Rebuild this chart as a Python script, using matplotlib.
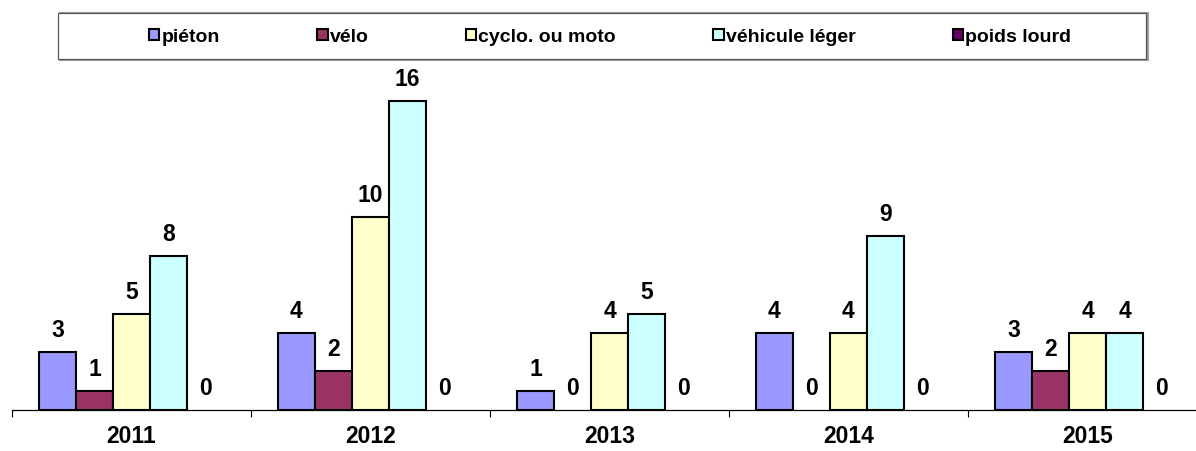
import numpy as np
import matplotlib.pyplot as plt
from matplotlib.patches import Rectangle

plt.rcParams['font.family'] = ['Liberation Sans', 'DejaVu Sans']
plt.rcParams['font.weight'] = 'bold'

# données
years = ['2011', '2012', '2013', '2014', '2015']
series = ['piéton', 'vélo', 'cyclo. ou moto', 'véhicule léger', 'poids lourd']
pieton = [3, 4, 1, 4, 3]
velo = [1, 2, 0, 0, 2]
cyclo = [5, 10, 4, 4, 4]
vehicule = [8, 16, 5, 9, 4]
poids_lourd = [0, 0, 0, 0, 0]
values = [pieton, velo, cyclo, vehicule, poids_lourd]
colors = ['#9999FF', '#993366', '#FFFFCC', '#CCFFFF', '#660066']

W, H = 1196, 451
fig = plt.figure(figsize=(W / 100, H / 100), dpi=100)
ax = fig.add_axes([12 / W, 41 / H, 1195 / W, (410 - 82.2) / H])

x = np.arange(len(years))
bw = 0.155
for i, (name, vals, c) in enumerate(zip(series, values, colors)):
    pos = x + (i - 2) * bw
    bars = ax.bar(pos, vals, bw, color=c, edgecolor='black', linewidth=1.5, label=name)
    for b, v in zip(bars, vals):
        if v == 0:
            b.set_linewidth(0)  # pas de trait pour les barres nulles
        ax.annotate(str(v), (b.get_x() + b.get_width() / 2, v),
                    xytext=(0, 10.8), textcoords='offset points',
                    ha='center', va='baseline', fontsize=16.5, fontweight='bold')

ax.set_xlim(-0.5, len(years) - 0.5)
ax.set_ylim(0, 17)
ax.set_yticks([])
for s in ['top', 'right', 'left']:
    ax.spines[s].set_visible(False)
ax.spines['bottom'].set_linewidth(0.9)

ax.set_xticks(x)
ax.set_xticklabels(years, fontsize=16.5, fontweight='bold')
ax.tick_params(axis='x', which='major', length=0, pad=11)
ax.set_xticks(np.arange(-0.5, len(years), 1.0), minor=True)
ax.tick_params(axis='x', which='minor', length=5, width=0.8, direction='out')

# cadre de la légende (style Excel)
fig.patches.append(Rectangle((60 / W, 1 - 60 / H), 1088 / W, 47 / H,
                             transform=fig.transFigure, facecolor='none',
                             edgecolor='#a0a0a0', linewidth=1.5, zorder=0))
fig.patches.append(Rectangle((58 / W, 1 - 59 / H), 1088 / W, 46 / H,
                             transform=fig.transFigure, facecolor='white',
                             edgecolor='#555555', linewidth=0.9, zorder=1))

leg = fig.legend(loc='center', bbox_to_anchor=(610 / W, 1 - 37 / H), ncol=5,
                 frameon=False, fontsize=14, handlelength=0.55, handleheight=0.55,
                 handletextpad=0.1, columnspacing=5.0, borderpad=0)
for t in leg.get_texts():
    t.set_fontweight('bold')
for p in leg.get_patches():
    p.set_linewidth(1.5)

fig.savefig('out.png', dpi=100)
